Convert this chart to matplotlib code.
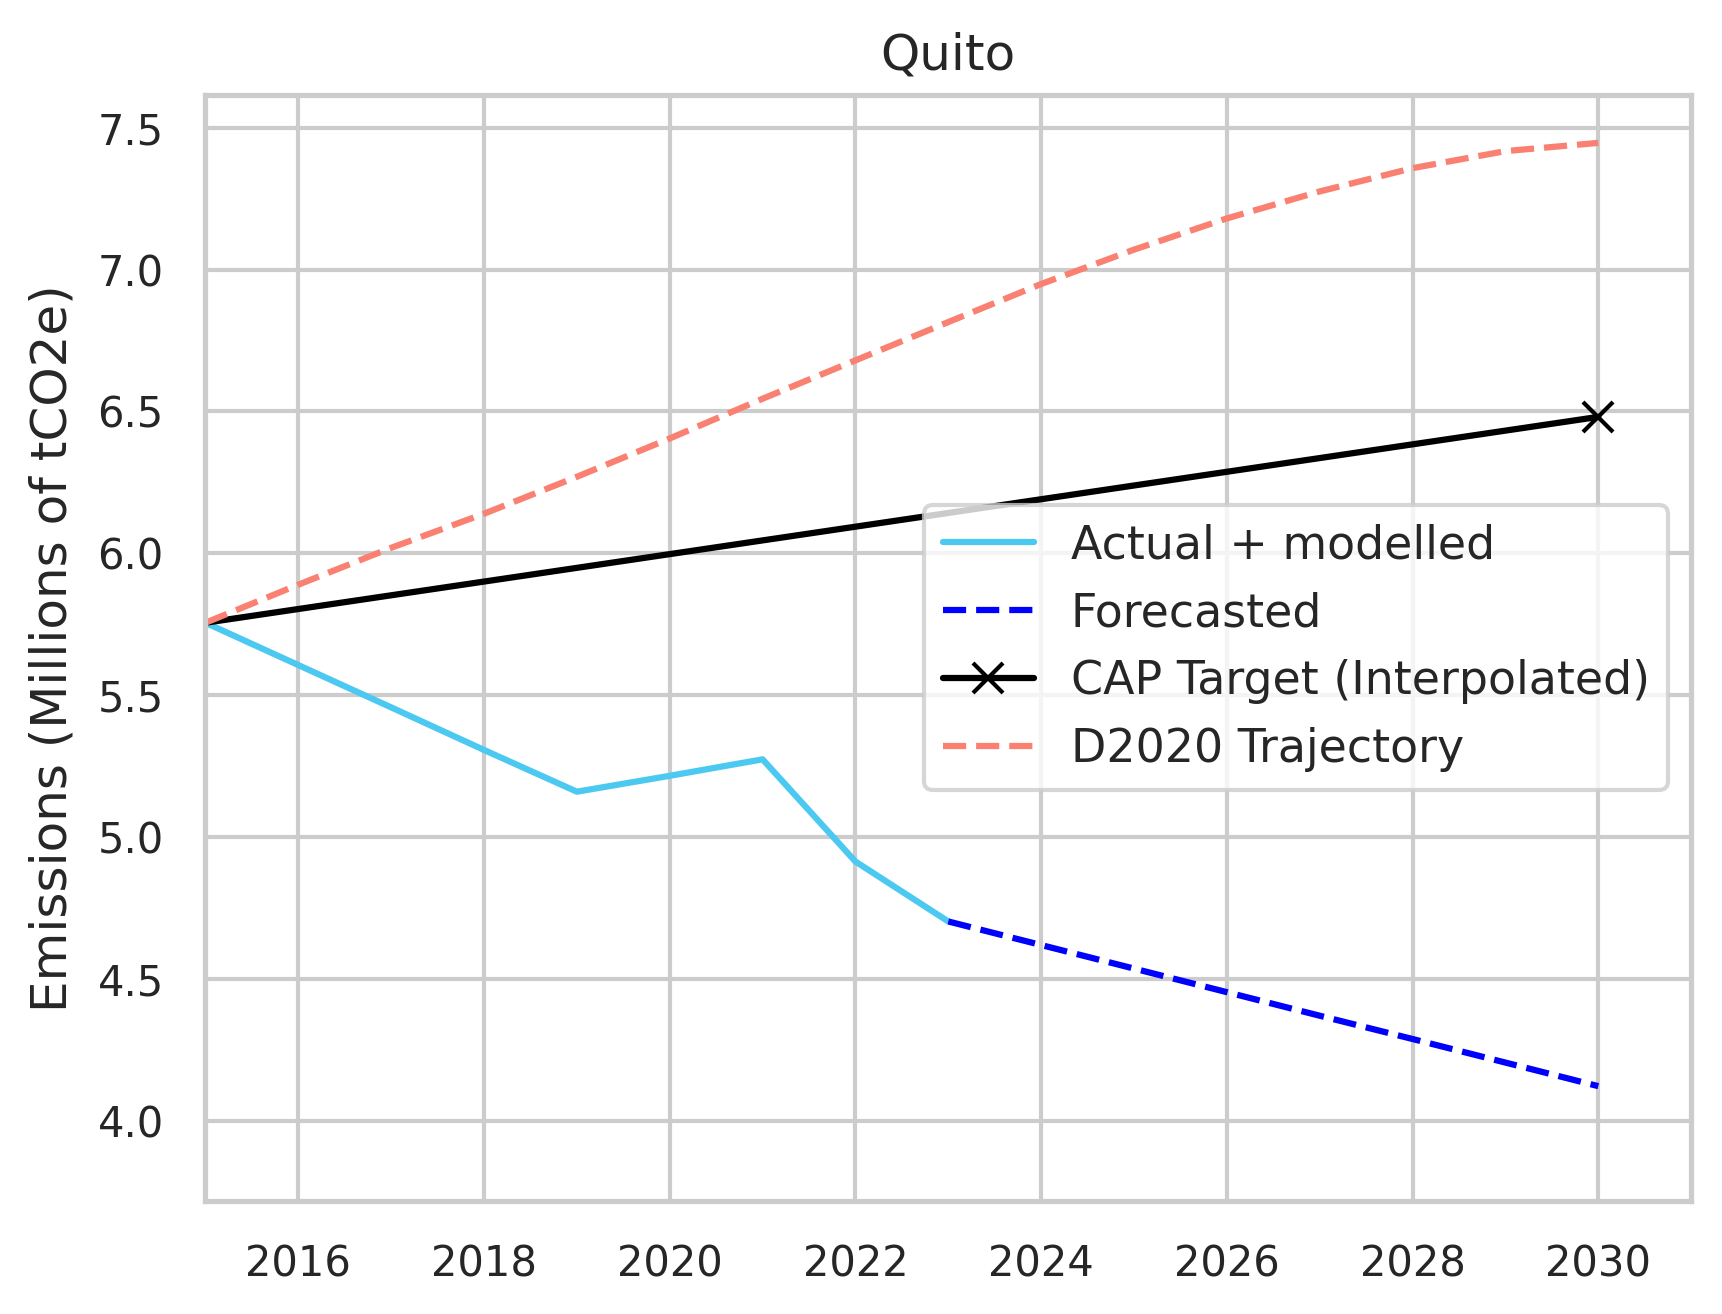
import numpy as np
import matplotlib
matplotlib.use("Agg")
import matplotlib.pyplot as plt
import seaborn as sns

# values (Millions of tCO2e)
actual_years = [2015, 2016, 2017, 2018, 2019, 2020, 2021, 2022, 2023]
actual_vals = [5.756, 5.607, 5.458, 5.308, 5.161, 5.217, 5.275, 4.915, 4.704]

forecast_years = [2023, 2024, 2025, 2026, 2027, 2028, 2029, 2030]
forecast_vals = [4.704, 4.621, 4.538, 4.455, 4.372, 4.290, 4.207, 4.124]

cap_years = [2015, 2030]
cap_vals = [5.756, 6.481]

d2020_years = list(range(2015, 2031))
d2020_vals = [5.756, 5.89, 6.02, 6.14, 6.27, 6.405, 6.545, 6.68,
              6.815, 6.949, 7.07, 7.18, 7.275, 7.357, 7.417, 7.446]

city = "Quito"

sns.set_theme(style="whitegrid")
plt.rcParams['font.family'] = ['DejaVu Sans']

fig = plt.figure(figsize=(5.74, 4.38), dpi=300)
ax = fig.add_axes([0.1193, 0.0861, 0.9821 - 0.1193, 0.928 - 0.0861])

ax.plot(actual_years, actual_vals, color='#4CC9F0', lw=1.5, label='Actual + modelled')
ax.plot(forecast_years, forecast_vals, color='blue', lw=1.5, ls='--', label='Forecasted')
ax.plot(cap_years, cap_vals, color='black', lw=1.5, marker='x', markersize=7,
        markevery=[len(cap_years) - 1], label='CAP Target (Interpolated)')
ax.plot(d2020_years, d2020_vals, color='salmon', lw=1.5, ls='--', label='D2020 Trajectory')

ax.set_xlim(2015, 2031)
ax.set_ylim(3.72, 7.616)
ax.set_xticks(range(2016, 2031, 2))
ax.set_yticks(np.arange(4.0, 7.6, 0.5))
ax.yaxis.set_major_formatter(matplotlib.ticker.FormatStrFormatter('%.1f'))
ax.tick_params(labelsize=10, colors='#262626')
ax.tick_params(axis='x', pad=4.2)
ax.tick_params(axis='y', pad=4.0)

ax.set_title(city, fontsize=12, color='#262626', pad=6)
ax.set_ylabel('Emissions (Millions of tCO2e)', fontsize=12, color='#262626', labelpad=5)
ax.legend(loc='center right', fontsize=11)

fig.savefig('out.png', dpi=300)
